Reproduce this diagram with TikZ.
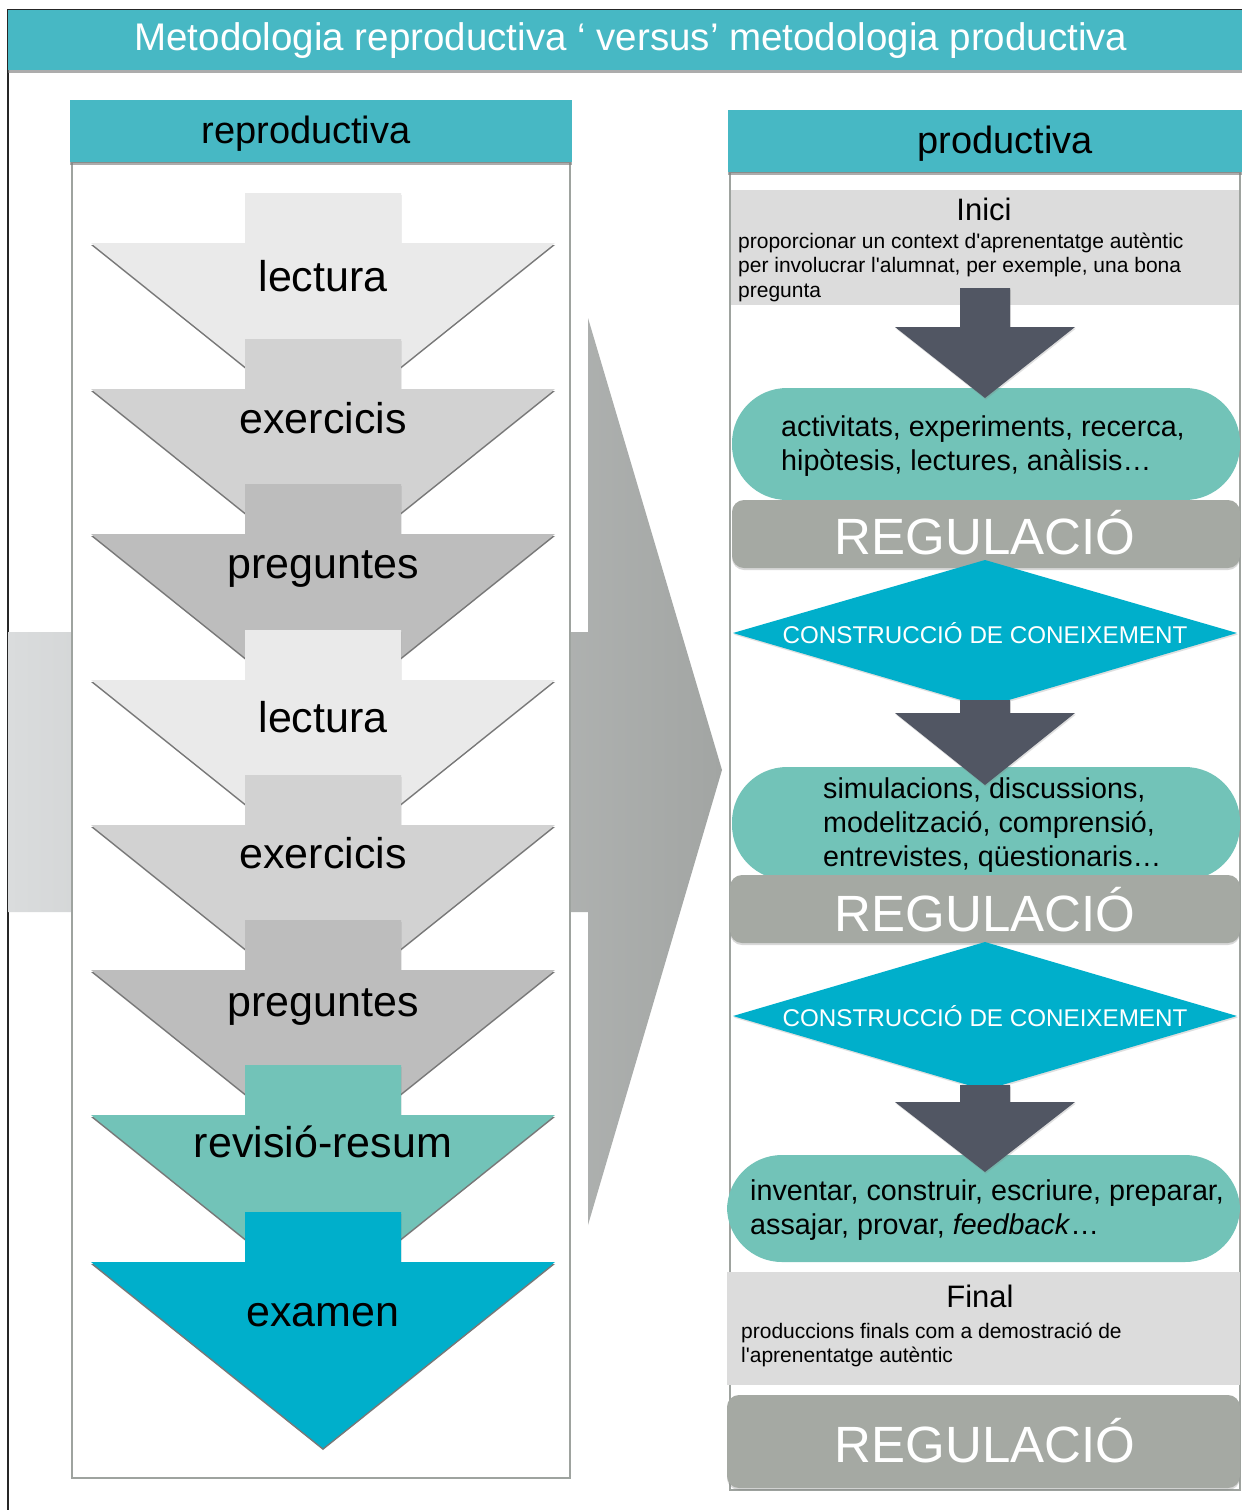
\documentclass[tikz,border=0pt]{standalone}
\usepackage{fontspec}
\setmainfont{Liberation Sans}
\usetikzlibrary{shadows}
\definecolor{hdrteal}{HTML}{47B8C4}
\definecolor{clect}{HTML}{EAEAEA}
\definecolor{cexer}{HTML}{D2D2D2}
\definecolor{cpreg}{HTML}{BDBDBD}
\definecolor{crevi}{HTML}{72C3B8}
\definecolor{cexam}{HTML}{00AFCB}
\definecolor{darkarr}{HTML}{515663}
\definecolor{pillc}{HTML}{72C3B8}
\definecolor{regc}{HTML}{A5A9A3}
\definecolor{diac}{HTML}{00AFCB}
\definecolor{boxgray}{HTML}{DCDCDC}
\definecolor{panelline}{HTML}{9EA39F}
\definecolor{bigl}{HTML}{DADCDD}
\definecolor{bigr}{HTML}{A2A5A3}
\newcommand\mkLarrow[2]{%
  \fill[#2, lshadow] (245,#1-50) -- (401,#1-50) -- (401,#1) -- (555,#1) -- (323,#1+186) -- (91,#1) -- (245,#1) -- cycle;}
\newcommand\mkDarrow[3]{%
  \fill[darkarr, dshadow] (960,#1) -- (1010,#1) -- (1010,#2) -- (1075,#2) -- (985,#3) -- (895,#2) -- (960,#2) -- cycle;}
\begin{document}
\begin{tikzpicture}[x=1pt,y=-1pt,
  lshadow/.style={drop shadow={shadow xshift=0pt,shadow yshift=-2pt,opacity=0.75,fill=black!70}},
  dshadow/.style={drop shadow={shadow xshift=0.8pt,shadow yshift=-1.6pt,opacity=0.25}},
  hdrbox/.style={fill=hdrteal, drop shadow={shadow xshift=0pt,shadow yshift=-2.5pt,opacity=0.65}},
  arrtxt/.style={font=\fontsize{43}{48}\selectfont, text=black, inner sep=0pt},
  pill/.style={fill=pillc, rounded corners=55pt},
  regbox/.style={fill=regc, rounded corners=12pt, drop shadow={shadow xshift=0pt,shadow yshift=-2pt,opacity=0.3}},
  regtxt/.style={font=\fontsize{51}{56}\selectfont, text=white, inner sep=0pt},
  diatxt/.style={font=\fontsize{24.2}{28}\selectfont, text=white, inner sep=0pt},
  pilltxt/.style={font=\fontsize{28.7}{34}\selectfont, text=black, align=left, anchor=west, inner sep=0pt},
  smalltxt/.style={font=\fontsize{21}{24.5}\selectfont, text=black, align=left, anchor=west, inner sep=0pt},
  midtxt/.style={font=\fontsize{31}{36}\selectfont, text=black, inner sep=0pt},
  hdrtxt/.style={font=\fontsize{38}{44}\selectfont, text=black, inner sep=0pt}]
\useasboundingbox (0,0) rectangle (1242,1510);
\fill[white] (0,0) rectangle (1242,1510);
% outer frame
\draw[line width=1.3pt, black!85] (8,10) rectangle (1262,1530);
% title bar
\fill[hdrbox] (8,10) rectangle (1262,70);
\node[font=\fontsize{38.5}{44}\selectfont, text=white, inner sep=0pt] (title) at (631,41) {Metodologia reproductiva ‘ versus’ metodologia productiva};
% big gray arrow
\shade[left color=bigl, right color=bigr] (8,632) -- (588,632) -- (588,318) -- (722,770) -- (588,1225) -- (588,912) -- (8,912) -- cycle;
% left panel
\filldraw[fill=white, draw=panelline, line width=1.5pt] (72,162) rectangle (570,1478);
\fill[hdrbox] (70,100) rectangle (572,162);
\node[hdrtxt] (lhdr) at (306,134) {reproductiva};
% left arrows
\mkLarrow{243}{clect}
\node[arrtxt] (a1) at (323,276) {lectura};
\mkLarrow{389}{cexer}
\node[arrtxt] (a2) at (323,418) {exercicis};
\mkLarrow{534}{cpreg}
\node[arrtxt] (a3) at (323,569) {preguntes};
\mkLarrow{680}{clect}
\node[arrtxt] (a4) at (323,717) {lectura};
\mkLarrow{825}{cexer}
\node[arrtxt] (a5) at (323,853) {exercicis};
\mkLarrow{970}{cpreg}
\node[arrtxt] (a6) at (323,1007) {preguntes};
\mkLarrow{1115}{crevi}
\node[arrtxt] (a7) at (323,1142) {revisió-resum};
\mkLarrow{1262}{cexam}
\node[arrtxt] (a8) at (323,1315) {examen};
% right panel
\filldraw[fill=white, draw=panelline, line width=1.5pt] (730,172) rectangle (1240,1490);
\fill[hdrbox] (728,110) rectangle (1262,172);
\node[hdrtxt] (rhdr) at (1005,144) {productiva};
% Inici
\fill[boxgray] (731,190) rectangle (1239,305);
\node[midtxt] (inici) at (984,209) {Inici};
\node[smalltxt] (inicitxt) at (738,267) {proporcionar un context d\textquotesingle aprenentatge autèntic\\per involucrar l\textquotesingle alumnat, per exemple, una bona\\pregunta};
% pill 1
\fill[pill] (732,388) rectangle (1240,500);
\mkDarrow{288}{327}{398}
\node[pilltxt] (p1) at (781,446) {activitats, experiments, recerca,\\hipòtesis, lectures, anàlisis…};
% regulacio 1
\fill[regbox] (732,500) rectangle (1240,568);
\node[regtxt] (r1) at (985,533) {REGULACIÓ};
% diamond 1
\fill[diac, dshadow] (733,633) -- (985,560) -- (1237,633) -- (985,707) -- cycle;
\node[diatxt] (d1) at (985,633) {CONSTRUCCIÓ DE CONEIXEMENT};
% pill 2
\fill[pill] (732,767) rectangle (1240,880);
\mkDarrow{700}{713}{785}
\node[pilltxt] (p2) at (823,825) {simulacions, discussions,\\modelització, comprensió,\\entrevistes, qüestionaris…};
% regulacio 2
\fill[regbox] (730,875) rectangle (1240,943);
\node[regtxt] (r2) at (985,910) {REGULACIÓ};
% diamond 2
\fill[diac, dshadow] (733,1016) -- (985,942) -- (1237,1016) -- (985,1090) -- cycle;
\node[diatxt] (d2) at (985,1016) {CONSTRUCCIÓ DE CONEIXEMENT};
% pill 3
\fill[pill] (727,1155) rectangle (1240,1262);
\mkDarrow{1085}{1102}{1172}
\node[pilltxt] (p3) at (750,1210) {inventar, construir, escriure, preparar,\\assajar, provar, \textit{feedback}…};
% Final
\fill[boxgray] (727,1272) rectangle (1240,1385);
\node[midtxt] (final) at (980,1296) {Final};
\node[smalltxt] (finaltxt) at (741,1345) {produccions finals com a demostració de\\l\textquotesingle aprenentatge autèntic};
% regulacio 3
\fill[regbox] (727,1395) rectangle (1240,1488);
\node[regtxt] (r3) at (985,1441) {REGULACIÓ};
\end{tikzpicture}
\end{document}
